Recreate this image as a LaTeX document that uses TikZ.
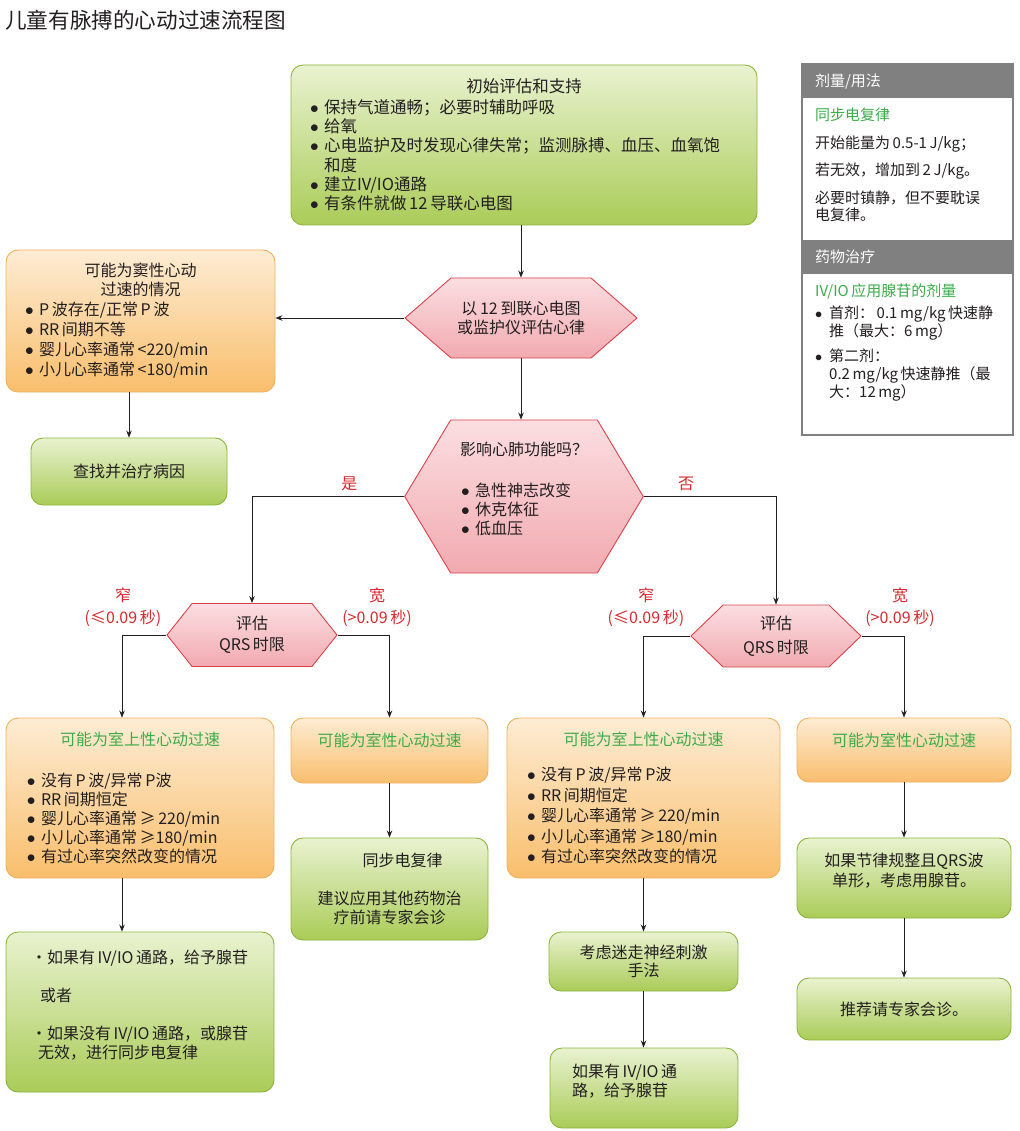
\documentclass[tikz,border=0pt]{standalone}
\usepackage{fontspec}
\setmainfont{Noto Sans CJK SC}
\usetikzlibrary{shapes.symbols,arrows.meta,positioning}
\definecolor{ink}{RGB}{35,31,32}
\definecolor{greentop}{RGB}{233,242,208}
\definecolor{greenbot}{RGB}{170,204,88}
\definecolor{greenline}{RGB}{140,180,60}
\definecolor{orangetop}{RGB}{253,236,212}
\definecolor{orangebot}{RGB}{249,190,108}
\definecolor{orangeline}{RGB}{240,178,96}
\definecolor{pinktop}{RGB}{251,222,225}
\definecolor{pinkbot}{RGB}{241,170,176}
\definecolor{pinkline}{RGB}{215,65,75}
\definecolor{titlegreen}{RGB}{60,172,75}
\definecolor{labelred}{RGB}{215,40,45}
\definecolor{panelgray}{RGB}{128,128,128}
\newcommand\bul{\makebox[14pt][l]{$\bullet$}}
\newcommand\ctr[1]{\hfill#1\hfill\null}
\tikzset{
    % Boxes
    greenbox/.style={
        rectangle,
        draw=greenline,
        line width=0.9pt,
        top color=greentop,
        bottom color=greenbot,
        rounded corners=12pt,
        align=center,
        text=ink,
        font=\fontsize{16}{19}\selectfont
    },
    orangebox/.style={
        rectangle,
        draw=orangeline,
        line width=0.9pt,
        top color=orangetop,
        bottom color=orangebot,
        rounded corners=12pt,
        align=center,
        text=ink,
        font=\fontsize{16}{19}\selectfont
    },
    % Decisions
    hexnode/.style={
        signal,
        signal to=west and east,
        draw=pinkline,
        line width=0.9pt,
        top color=pinktop,
        bottom color=pinkbot,
        align=center,
        text=ink,
        font=\fontsize{16}{19}\selectfont
    },
    % Dosage panel
    panelhead/.style={
        rectangle,
        fill=panelgray,
        text=white,
        minimum width=211pt,
        minimum height=34pt,
        text width=185pt,
        align=left,
        font=\fontsize{15}{18}\selectfont
    },
    paneltext/.style={
        anchor=north west,
        inner sep=0pt,
        text width=195pt,
        align=left,
        text=ink,
        font=\fontsize{15}{17.5}\selectfont
    },
    % Arrows
    arrow/.style={
        -{Stealth[length=7pt,width=5.5pt]},
        line width=0.9pt,
        draw=ink
    },
    % Labels
    branchlabel/.style={
        text=labelred,
        align=center,
        font=\fontsize{16}{22}\selectfont
    }
}

\begin{document}
\begin{tikzpicture}[x=1pt, y=-1pt]
    \useasboundingbox (0,0) rectangle (1019,1131);

    % Title
    \node[anchor=west, inner sep=0pt, text=ink, font=\fontsize{21.6}{24}\selectfont] (title) at (5,20) {儿童有脉搏的心动过速流程图};

    % Initial assessment
    \node[greenbox, minimum width=466pt, minimum height=160pt, text width=428pt, align=left, font=\fontsize{16.5}{19.3}\selectfont] (init) at (524,145) {\ctr{初始评估和支持}\\[1pt]
        \bul 保持气道通畅；必要时辅助呼吸\\
        \bul 给氧\\
        \bul 心电监护及时发现心律失常；监测脉搏、血压、血氧饱\\
        \hspace*{14pt}和度\\
        \bul 建立IV/IO通路\\
        \bul 有条件就做\,12\,导联心电图};

    % Rhythm check
    \node[hexnode, signal pointer angle=82, minimum width=232pt, minimum height=80pt] (rhythm) at (521,318) {以\,12\,到联心电图\\或监护仪评估心律};

    % Sinus tachycardia
    \node[orangebox, minimum width=269pt, minimum height=142pt, text width=231pt, align=left, font=\fontsize{16}{20}\selectfont] (sinus) at (140.5,321) {\ctr{可能为窦性心动}\\[-1pt]\ctr{过速的情况}\\
        \bul P\,波存在/正常\,P\,波\\
        \bul RR\,间期不等\\
        \bul 婴儿心率通常\,<220/min\\
        \bul 小儿心率通常\,<180/min};

    % Cause
    \node[greenbox, minimum width=196pt, minimum height=67pt] (cause) at (129,471.5) {查找并治疗病因};

    % Cardiopulmonary compromise
    \node[hexnode, signal pointer angle=118, minimum width=234pt, minimum height=153pt, text width=140pt, align=left] (cardio) at (524,496.5) {\ctr{影响心肺功能吗？}\\[22pt]
        \hspace*{7pt}\bul 急性神志改变\\
        \hspace*{7pt}\bul 休克体征\\
        \hspace*{7pt}\bul 低血压\\[-3pt]\mbox{}};

    % QRS duration
    \node[hexnode, signal pointer angle=103, minimum width=170pt, minimum height=63pt, font=\fontsize{16}{21}\selectfont] (qrsL) at (252,635) {评估\\QRS\,时限};
    \node[hexnode, signal pointer angle=88, minimum width=170pt, minimum height=62pt, font=\fontsize{16}{24}\selectfont] (qrsR) at (776,636) {评估\\QRS\,时限};

    % Branch labels
    \node[branchlabel] (narrowL) at (123,607) {窄\\(≤0.09\,秒)};
    \node[branchlabel] (wideL) at (377,607) {宽\\(>0.09\,秒)};
    \node[branchlabel] (narrowR) at (646,607) {窄\\(≤0.09\,秒)};
    \node[branchlabel] (wideR) at (900,607) {宽\\(>0.09\,秒)};

    % Probable SVT / VT
    \node[orangebox, minimum width=268pt, minimum height=160pt, text width=226pt, align=left] (svtL) at (140,798) {\ctr{\textcolor{titlegreen}{可能为室上性心动过速}}\\[22pt]
        \bul 没有\,P\,波/异常\,P波\\
        \bul RR\,间期恒定\\
        \bul 婴儿心率通常\,≥\,220/min\\
        \bul 小儿心率通常\,≥180/min\\
        \bul 有过心率突然改变的情况};
    \node[orangebox, minimum width=197pt, minimum height=65pt] (vtL) at (389.5,750.5) {\textcolor{titlegreen}{可能为室性心动过速}\\[2pt]\mbox{}};
    \node[orangebox, minimum width=273pt, minimum height=160pt, text width=233pt, align=left, font=\fontsize{16}{20.5}\selectfont] (svtR) at (643.5,798) {\ctr{\textcolor{titlegreen}{可能为室上性心动过速}}\\[15pt]
        \bul 没有\,P\,波/异常\,P波\\
        \bul RR\,间期恒定\\
        \bul 婴儿心率通常\,≥\,220/min\\
        \bul 小儿心率通常\,≥180/min\\
        \bul 有过心率突然改变的情况};
    \node[orangebox, minimum width=214pt, minimum height=64pt] (vtR) at (904,750) {\textcolor{titlegreen}{可能为室性心动过速}\\[2pt]\mbox{}};

    % Treatment, left side
    \node[greenbox, minimum width=268pt, minimum height=160pt, text width=218pt, align=left] (adenoL) at (140,1012) {·如果有\,IV/IO\,通路，给予腺苷\\[19pt]
        \hspace*{9pt}或者\\[19pt]
        ·如果没有\,IV/IO\,通路，或腺苷\\
        \hspace*{7pt}无效，进行同步电复律\\[-3pt]\mbox{}};
    \node[greenbox, minimum width=197pt, minimum height=102pt] (shock) at (389.5,889) {\hspace*{26pt}同步电复律\\[19pt]建议应用其他药物治\\疗前请专家会诊};

    % Treatment, right side
    \node[greenbox, minimum width=189pt, minimum height=59pt, font=\fontsize{16}{18}\selectfont] (vagal) at (643.5,961.5) {考虑迷走神经刺激\\手法};
    \node[greenbox, minimum width=188pt, minimum height=80pt, text width=144pt, align=left] (adenoR) at (644,1088) {如果有\,IV/IO\,通\\路，给予腺苷\\[-4pt]\mbox{}};
    \node[greenbox, minimum width=214pt, minimum height=80pt, font=\fontsize{16}{20}\selectfont] (adenoVT) at (904,878) {如果节律规整且QRS波\\单形，考虑用腺苷。\\[-4pt]\mbox{}};
    \node[greenbox, minimum width=214pt, minimum height=62pt] (consult) at (904,1009) {推荐请专家会诊。};

    % Dosage panel
    \node[rectangle, draw=panelgray, line width=1.2pt, fill=white, minimum width=211pt, minimum height=371pt] (panel) at (907.5,249.5) {};
    \node[panelhead, minimum height=33pt] (dosehead) at (907.5,81.5) {剂量/用法};
    \node[paneltext] (dosetext) at (815,108) {\textcolor{titlegreen}{同步电复律}\\[10pt]
        开始能量为\,0.5-1\,J/kg；\\[10pt]
        若无效，增加到\,2\,J/kg。\\[10pt]
        必要时镇静，但不要耽误\\
        电复律。};
    \node[panelhead] (drughead) at (907.5,257) {药物治疗};
    \node[paneltext, font=\fontsize{15}{18}\selectfont] (drugtext) at (815,284) {\textcolor{titlegreen}{IV/IO\,应用腺苷的剂量}\\[4pt]
        \bul 首剂：\,0.1\,mg/kg\,快速静\\
        \hspace*{14pt}推（最大：6\,mg）\\[7pt]
        \bul 第二剂：\\
        \hspace*{14pt}0.2\,mg/kg\,快速静推（最\\
        \hspace*{14pt}大：12\,mg）};

    % Arrows - main flow
    \draw[arrow] (rhythm.north |- init.south) -- (rhythm.north);
    \draw[arrow] (rhythm.west) -- (rhythm.west -| sinus.east);
    \draw[arrow] (cause.north |- sinus.south) -- (cause.north);
    \draw[arrow] (rhythm.south) -- (rhythm.south |- cardio.north);

    % Arrows - compromise branches
    \draw[arrow] (cardio.west) -| node[branchlabel, pos=0.18, above=2pt] (yes) {是} (qrsL.north);
    \draw[arrow] (cardio.east) -| node[branchlabel, pos=0.16, above=2pt] (no) {否} (qrsR.north);

    % Arrows - QRS branches
    \draw[arrow] (qrsL.west) -| ([xshift=-18pt]svtL.north);
    \draw[arrow] (qrsL.east) -| (vtL.north);
    \draw[arrow] (qrsR.west) -| (svtR.north);
    \draw[arrow] (qrsR.east) -| (vtR.north);

    % Arrows - treatment
    \draw[arrow] ([xshift=-18pt]svtL.south) -- ([xshift=-18pt]adenoL.north);
    \draw[arrow] (vtL.south) -- (shock.north);
    \draw[arrow] (svtR.south) -- (vagal.north);
    \draw[arrow] (vagal.south) -- (vagal.south |- adenoR.north);
    \draw[arrow] (vtR.south) -- (adenoVT.north);
    \draw[arrow] (adenoVT.south) -- (consult.north);

\end{tikzpicture}
\end{document}
